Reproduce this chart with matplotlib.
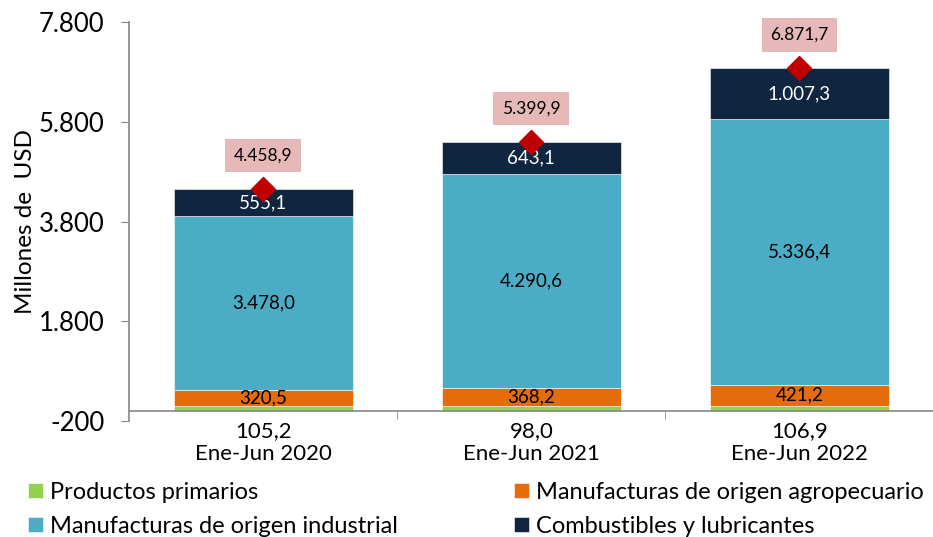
import matplotlib.pyplot as plt
import numpy as np

plt.rcParams['font.family'] = ['Lato', 'DejaVu Sans']

periodos = ['Ene-Jun 2020', 'Ene-Jun 2021', 'Ene-Jun 2022']
primarios = [105.2, 98.0, 106.9]
moa = [320.5, 368.2, 421.2]
moi = [3478.0, 4290.6, 5336.4]
combustibles = [555.1, 643.1, 1007.3]
totales = [4458.9, 5399.9, 6871.7]

series = ['Productos primarios', 'Manufacturas de origen agropecuario',
          'Manufacturas de origen industrial', 'Combustibles y lubricantes']
colores = ['#92D050', '#E46C0A', '#4BACC6', '#10253F']


def fmt(v):
    s = f'{v:,.1f}'
    return s.replace(',', 'X').replace('.', ',').replace('X', '.')


fig = plt.figure(figsize=(9.33, 5.37), dpi=100)
ax = fig.add_axes([0.1385, 0.216, 0.862, 0.743])

x = np.arange(len(periodos))
w = 0.667
datos = [primarios, moa, moi, combustibles]
bottom = np.zeros(len(periodos))
handles = []
for vals, c, name in zip(datos, colores, series):
    bars = ax.bar(x, vals, w, bottom=bottom, color=c, label=name,
                  edgecolor='white', linewidth=0.4)
    handles.append(bars)
    bottom += np.array(vals)

# etiquetas dentro de las barras
base = np.array(primarios)
for vals, col in [(moa, 'black'), (moi, 'black'), (combustibles, 'white')]:
    for i, v in enumerate(vals):
        ax.text(x[i], base[i] + v / 2, fmt(v), ha='center', va='center',
                fontsize=13.5, color=col)
    base = base + np.array(vals)

# totales
ax.scatter(x, totales, marker='D', s=150, color='#C00000', zorder=5)
for i, t in enumerate(totales):
    ax.annotate(fmt(t), (x[i], t), xytext=(0, 24), textcoords='offset points',
                ha='center', va='center', fontsize=12.5,
                bbox=dict(boxstyle='square,pad=0.5', fc='#E6B9B8', ec='none'))

ax.set_xlim(-0.5, 2.5)
ax.set_ylim(-200, 7800)
ax.set_yticks([-200, 1800, 3800, 5800, 7800])
ax.set_yticklabels(['-200', '1.800', '3.800', '5.800', '7.800'])
ax.set_xticks(x)
ax.set_xticklabels([f'{fmt(p)}\n{n}' for p, n in zip(primarios, periodos)],
                   linespacing=0.95)
ax.set_xticks([0.5, 1.5, 2.5], minor=True)
ax.tick_params(axis='x', which='major', length=0, pad=7, labelsize=16)
ax.tick_params(axis='x', which='minor', length=6, color='#868686')
ax.tick_params(axis='y', length=6, color='#868686', pad=12, labelsize=18.5)

ax.spines['top'].set_visible(False)
ax.spines['right'].set_visible(False)
ax.spines['bottom'].set_position(('data', 0))
for s in ['left', 'bottom']:
    ax.spines[s].set_color('#868686')
    ax.spines[s].set_linewidth(1.2)

ax.set_ylabel('Millones de  USD', fontsize=17.5, labelpad=2)

orden = [0, 2, 1, 3]
ax.legend([handles[k] for k in orden], [series[k] for k in orden],
          loc='upper left', bbox_to_anchor=(-0.137, -0.128), ncol=2,
          frameon=False, fontsize=17, handlelength=0.6, handleheight=0.6,
          handletextpad=0.3, columnspacing=4.95, labelspacing=0.55,
          borderaxespad=0)

fig.savefig('out.png', dpi=100)
